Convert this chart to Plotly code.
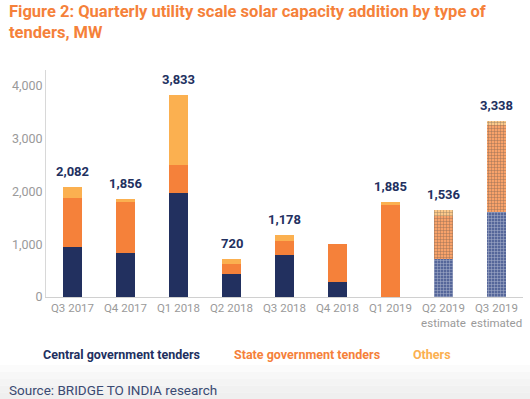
import plotly.graph_objects as go

categories = ["Q3 2017", "Q4 2017", "Q1 2018", "Q2 2018", "Q3 2018",
              "Q4 2018", "Q1 2019", "Q2 2019<br>estimate", "Q3 2019<br>estimated"]
central = [950, 830, 1975, 430, 795, 280, 0, 720, 1610]
state = [930, 975, 525, 200, 265, 720, 1750, 820, 1650]
others = [202, 51, 1333, 90, 118, 0, 50, 100, 80]
total_labels = ["2,082", "1,856", "3,833", "720", "1,178", "", "1,885", "1,536", "3,338"]
estimated = [False] * 7 + [True, True]

NAVY = "#22305f"
ORANGE = "#f5813a"
LIGHT = "#fbb050"

def colors(base, est):
    return [est if e else base for e in estimated]

patt = ["+" if e else "" for e in estimated]

fig = go.Figure()
for vals, base, est_col in [(central, NAVY, "#56679a"),
                            (state, ORANGE, "#f8a26a"),
                            (others, LIGHT, "#fcc98a")]:
    fig.add_trace(go.Bar(
        x=categories, y=vals, width=0.34,
        marker=dict(color=colors(base, est_col), line=dict(width=0),
                    pattern=dict(shape=patt, fillmode="overlay",
                                 fgcolor="rgba(255,255,255,0.35)", size=3, solidity=0.3)),
        showlegend=False, hoverinfo="skip"))

tops = [c + s + o for c, s, o in zip(central, state, others)]
for cat, top, lab in zip(categories, tops, total_labels):
    if lab:
        fig.add_annotation(x=cat, y=top, text="<b>" + lab + "</b>", showarrow=False,
                           yanchor="bottom", yshift=6,
                           font=dict(family="Roboto", size=13, color=NAVY))

fig.add_annotation(xref="paper", yref="paper", x=-0.081, y=1.31, xanchor="left", yanchor="top",
                   align="left", showarrow=False,
                   text="<b>Figure 2: Quarterly utility scale solar capacity addition by type of<br>tenders, MW</b>",
                   font=dict(family="Roboto", size=16.5, color=ORANGE))

legend_items = [("Central government tenders", NAVY, 0.0),
                ("State government tenders", ORANGE, 0.4),
                ("Others", LIGHT, 0.775)]
for txt, col, xp in legend_items:
    fig.add_annotation(xref="paper", yref="paper", x=xp - 0.01, y=-0.255, xanchor="left",
                       yanchor="middle", showarrow=False, text="<b>" + txt + "</b>",
                       font=dict(family="Roboto", size=12.5, color=col))

# soft gray gradient band at the bottom
grays = ["#fbfbfb", "#f7f7f7", "#f4f4f4", "#f1f1f1", "#efefef"]
y_top = -0.30
step = 0.15 / len(grays)
for i, g in enumerate(grays):
    fig.add_shape(type="rect", xref="paper", yref="paper", x0=-0.2, x1=1.1,
                  y0=y_top - (i + 1) * step, y1=y_top - i * step,
                  fillcolor=g, line=dict(width=0), layer="below")

fig.add_annotation(xref="paper", yref="paper", x=-0.081, y=-0.41, xanchor="left", yanchor="middle",
                   showarrow=False, text="Source: BRIDGE TO INDIA research",
                   font=dict(family="Roboto", size=13.5, color="#3a4a72"))

fig.update_layout(
    barmode="stack", width=530, height=399,
    margin=dict(l=46, r=7, t=70, b=102),
    paper_bgcolor="white", plot_bgcolor="white",
    font=dict(family="Roboto", color="#9a9a9a"),
    xaxis=dict(showline=True, linecolor="#d0d0d0", linewidth=1, ticks="",
               tickfont=dict(size=11.5, color="#9a9a9a"), showgrid=False),
    yaxis=dict(range=[0, 4300], tickvals=[0, 1000, 2000, 3000, 4000], tickformat=",",
               showline=True, linecolor="#d8d8d8", showgrid=False, zeroline=False,
               tickfont=dict(size=12.5, color="#9a9a9a"), ticks=""),
)
fig.write_html("out.html", config={"displayModeBar": False},
               post_script="document.body.style.margin='0';")
